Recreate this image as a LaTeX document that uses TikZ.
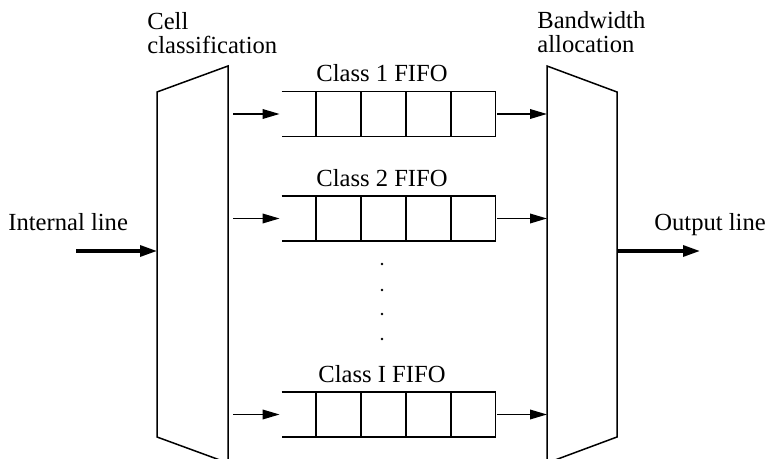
\documentclass[tikz,border=0pt]{standalone}
\usepackage{fontspec}
\setmainfont{Liberation Serif}
\usetikzlibrary{arrows.meta}
\begin{document}
\begin{tikzpicture}[x=0.5pt,y=-0.5pt,
  lbl/.style={inner sep=0pt, font=\fontsize{12.3pt}{12pt}\selectfont},
  edge/.style={line width=0.75pt, line join=miter},
  arr/.style={line width=0.8pt, -{Triangle[length=8.5pt,width=4.8pt]}},
  bigarr/.style={line width=1.6pt, -{Triangle[length=8.5pt,width=5.5pt]}},
  fifo/.style={rectangle, inner sep=0pt, minimum width=106.5pt, minimum height=22pt}
]
\useasboundingbox (0,0) rectangle (767,459);
\clip (0,0) rectangle (767,459);
% trapezoids
\draw[edge] (157,92) -- (228,66) -- (228,463) -- (157,437) -- cycle;
\draw[edge] (547,66) -- (617,92) -- (617,437) -- (547,463) -- cycle;
\coordinate (clsL) at (157,251);
\coordinate (clsR) at (228,251);
\coordinate (balL) at (547,251);
\coordinate (balR) at (617,251);
\coordinate (inS) at (76,251);
\coordinate (outE) at (700,251);
% labels
\node[lbl, anchor=north west, align=left] (cellcl) at (147,12.5) {Cell\\classification};
\node[lbl, anchor=north west, align=left] (bwalloc) at (537,11.5) {Bandwidth\\allocation};
\node[lbl, anchor=base west] (inlab) at (8,231) {Internal line};
\node[lbl, anchor=base west] (outlab) at (654,231) {Output line};
% input / output
\draw[bigarr] (inS) -- (clsL);
\draw[bigarr] (balR) -- (outE);
% fifos
\foreach \n/\y/\t in {f1/114/Class 1 FIFO, f2/218.5/Class 2 FIFO, fI/414.5/Class I FIFO}{
  \node[fifo] (\n) at (388.5,\y) {};
  \draw[edge] (\n.north west) -- (\n.north east) -- (\n.south east) -- (\n.south west);
  \foreach \x in {316,361,406,451} \draw[edge] (\x,\y-22) -- (\x,\y+22);
  \node[lbl, anchor=base] (\n lab) at (382,\y-32) {\t};
  \draw[arr, shorten <=2.5pt, shorten >=1pt] (clsR |- \n.west) -- (\n.west);
  \draw[arr, shorten <=1pt] (\n.east) -- (balL |- \n.east);
}
% dots
\foreach \yy in {264,290,314,339} \fill (382,\yy) circle (0.7pt);
\end{tikzpicture}
\end{document}
